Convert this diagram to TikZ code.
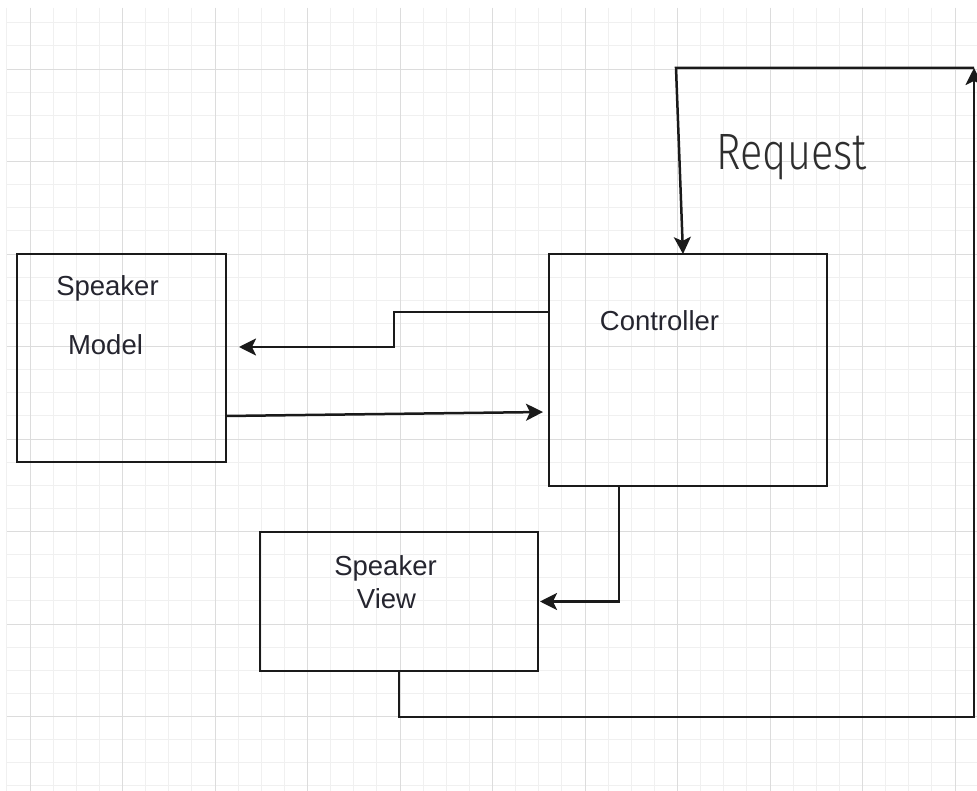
\documentclass[tikz,border=0pt]{standalone}
\usepackage{fontspec}
\setmainfont{Liberation Sans}
\newfontfamily\reqfont{Fira Sans Light}
\usepackage{graphicx}
\usetikzlibrary{arrows.meta}
\definecolor{mvcline}{HTML}{1A1A1A}
\definecolor{mvctext}{HTML}{25252F}
\definecolor{reqtext}{HTML}{2E2E2E}
\definecolor{gridminor}{HTML}{F0F0F0}
\definecolor{gridmajor}{HTML}{DCDCDC}

\begin{document}
\begin{tikzpicture}[x=1pt,y=-1pt,
  box/.style={draw=mvcline,line width=2.5pt,inner sep=0pt,outer sep=0pt},
  conn/.style={draw=mvcline,line width=2.5pt,-{Stealth[length=17pt,width=17pt,inset=4pt]}},
  lbl/.style={anchor=base,text=mvctext,inner sep=0pt,font=\fontsize{27.5}{33}\selectfont}]
  \useasboundingbox (0,0) rectangle (977,791);
  \fill[white] (0,0) rectangle (977,791);
  \foreach \k in {-1,...,40}
    \draw[gridminor,line width=1pt] ({floor(30+23.125*\k)+0.5},8) -- ({floor(30+23.125*\k)+0.5},791);
  \foreach \k in {-2,...,31}
    \draw[gridminor,line width=1pt] (7,{floor(69+23.125*\k)+0.5}) -- (977,{floor(69+23.125*\k)+0.5});
  \foreach \k in {0,...,10}
    \draw[gridmajor,line width=1.4pt] ({floor(30+92.5*\k)+0.5},8) -- ({floor(30+92.5*\k)+0.5},791);
  \foreach \k in {0,...,7}
    \draw[gridmajor,line width=1.4pt] (7,{floor(69+92.5*\k)+0.5}) -- (977,{floor(69+92.5*\k)+0.5});

  \node[box,minimum width=209pt,minimum height=208pt] (model) at (121.5,358) {};
  \node[box,minimum width=278pt,minimum height=232pt] (ctrl) at (688,370) {};
  \node[box,minimum width=278pt,minimum height=139pt] (view) at (399,601.5) {};
  \coordinate (corner) at (974,68);

  \node[lbl] (modeltop) at (107.5,296) {Speaker};
  \node[lbl] (modelbot) at (105.5,355) {Model};
  \node[lbl] (ctrltxt) at (659.5,330.5) {Controller};
  \node[lbl] (viewtop) at (385.5,575) {Speaker};
  \node[lbl] (viewbot) at (386.5,608) {View};
  \node[anchor=base,inner sep=0pt,text=reqtext] (req) at (791.7,169.3) {\resizebox{150pt}{35pt}{\reqfont Request}};

  \draw[conn] ([yshift=58pt]ctrl.west) -| (394,347) -- ([xshift=13pt,yshift=11pt]model.east);
  \draw[conn] ([yshift=-58pt]model.east) -- ([xshift=-6pt,yshift=-42pt]ctrl.west);
  \draw[conn] ([xshift=-69pt]ctrl.south) |- ([xshift=2pt]view.east);
  \draw[conn] (view.south) |- (974,717) -- (corner);
  \draw[conn] (corner) -- (676,68) -- ([xshift=-5pt]ctrl.north);
\end{tikzpicture}
\end{document}
